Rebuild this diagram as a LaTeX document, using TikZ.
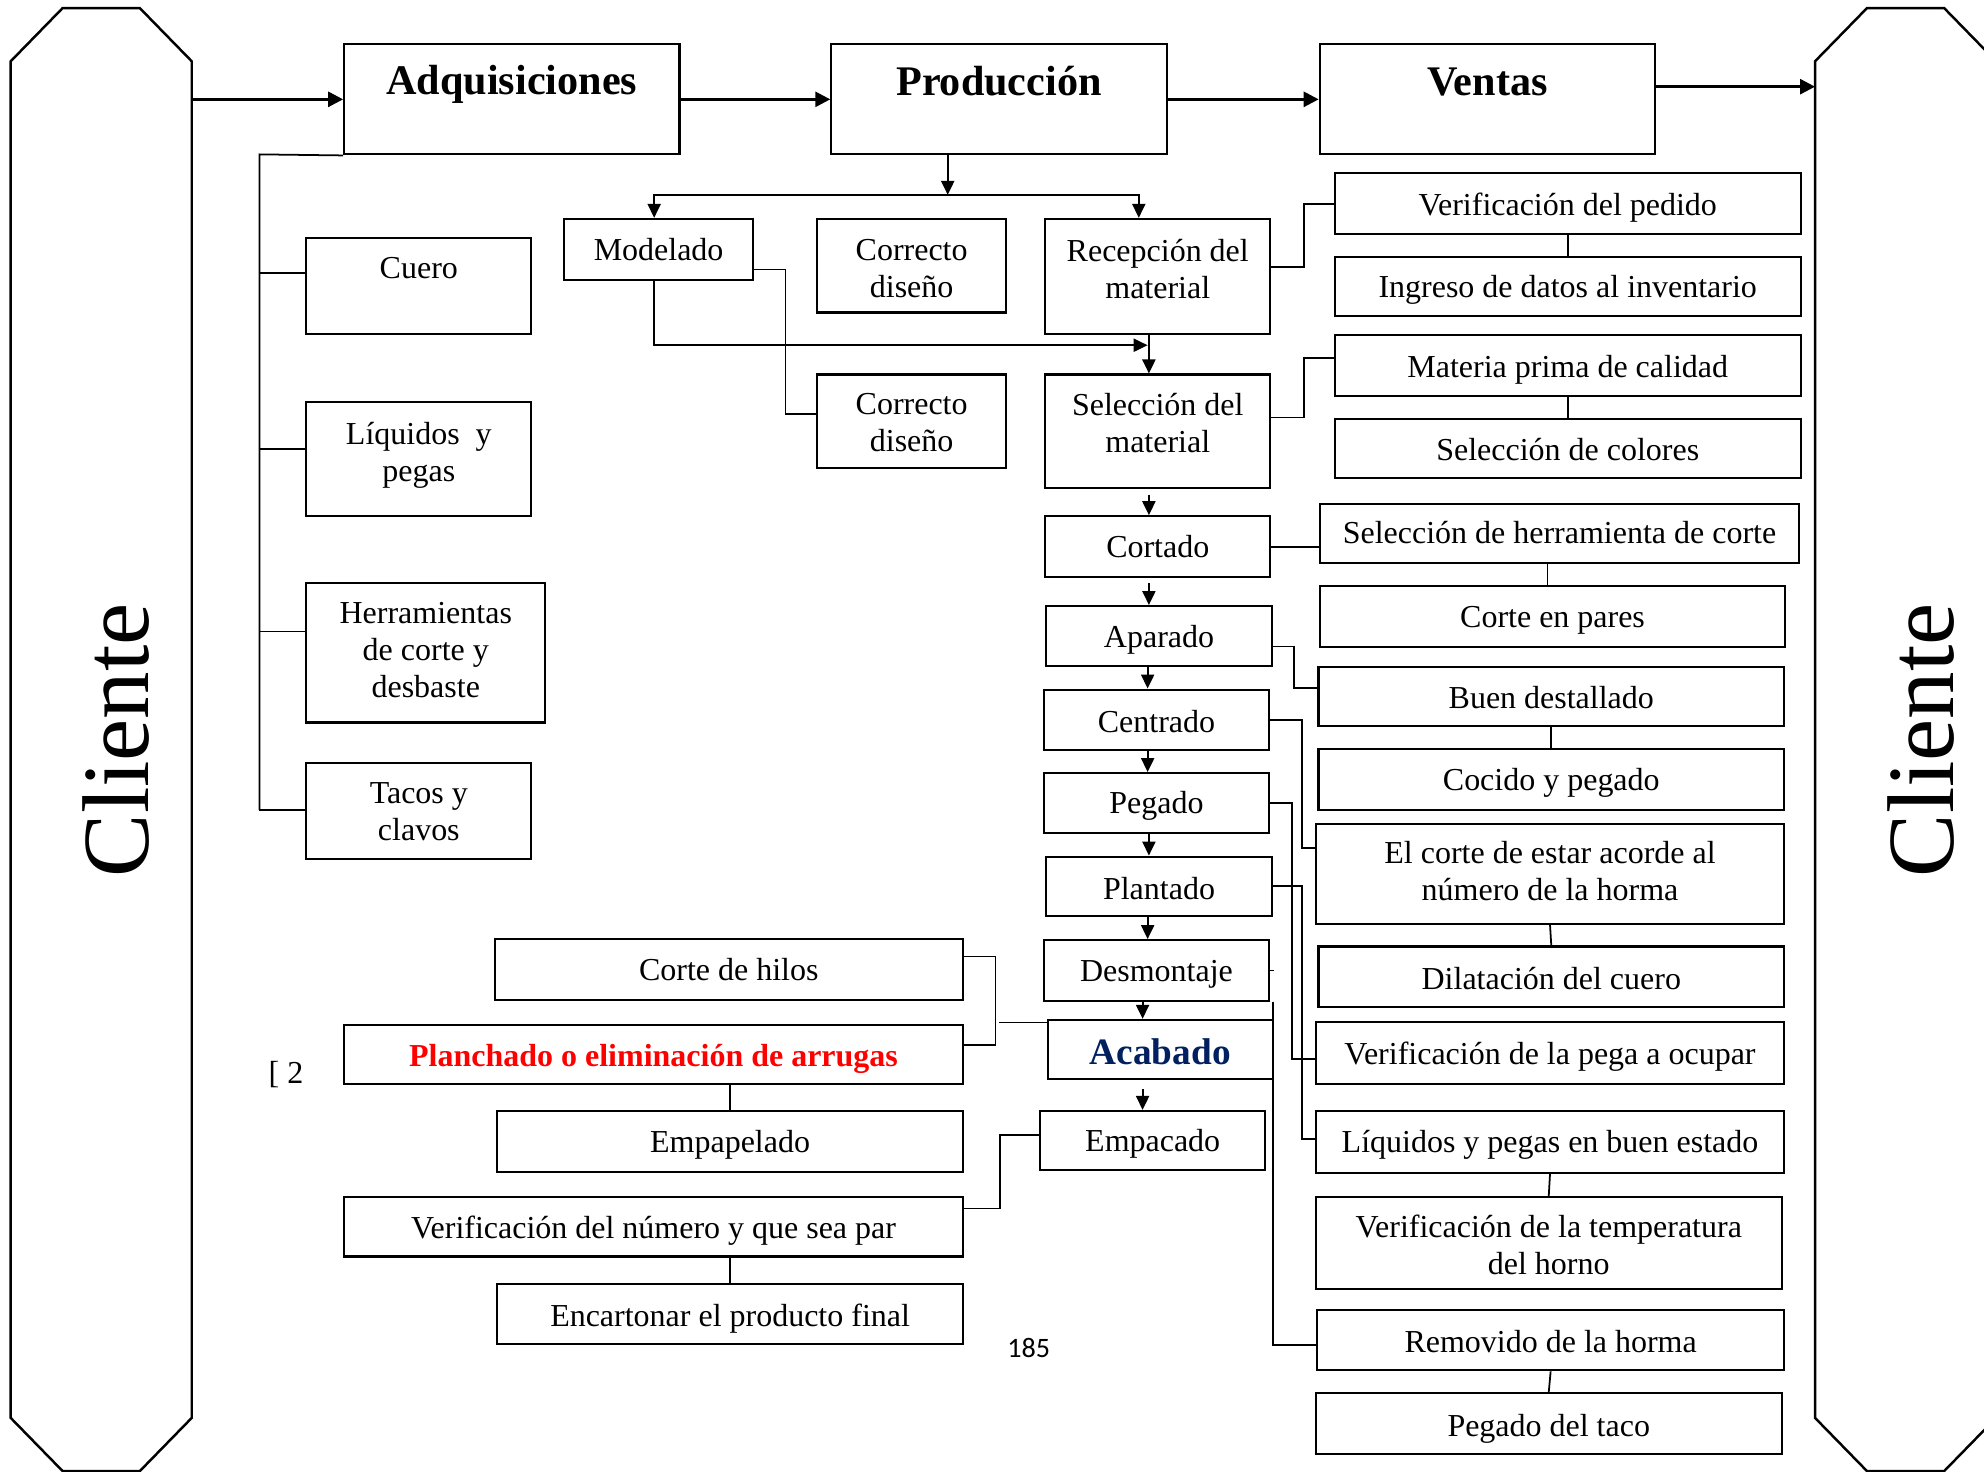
\documentclass[tikz,border=0pt]{standalone}
\usepackage{fontspec}
\setmainfont{Liberation Serif}
\newfontfamily\numfont{Carlito}
\usetikzlibrary{calc,arrows.meta}
\def\px{0.12653mm}
\definecolor{azulAcabado}{HTML}{002060}
\def\Titulo{\bfseries\fontsize{12}{14}\selectfont}
\def\AcabadoF{\color{azulAcabado}\bfseries\fontsize{10.6}{12}\selectfont}
\tikzset{
  caja/.style={draw=black, line width=0.6pt, inner sep=0pt},
  texto/.style={align=center, inner sep=0pt, font=\fontsize{9.1}{10.5}\selectfont},
  linea/.style={line width=0.5pt},
  flecha/.style={line width=0.6pt, -{Triangle[length=1.4mm,width=1.3mm]}},
  flechaG/.style={line width=0.8pt, -{Triangle[length=1.5mm,width=1.5mm]}},
  cliente/.style={draw=black, line width=0.7pt}
}
\def\Caja#1#2#3#4#5#6#7{%
  \node[caja, minimum width={(#4-#2)*\px}, minimum height={(#5-#3)*\px}] (#1) at ({(#2+#4)/2},{(#3+#5)/2}) {};
  \node[texto] (#1-t) at ({(#2+#4)/2},#6) {#7};
}
\def\Cliente#1#2{%
  \node[inner sep=0pt, minimum width=142*\px, minimum height=1155*\px] (#1) at ({#2+71},584.5) {};
  \draw[cliente] ($(#1.north west)+(0,42)$) -- ($(#1.north west)+(41,0)$)
    -- ($(#1.north east)+(-41,0)$) -- ($(#1.north east)+(0,42)$)
    -- ($(#1.south east)+(0,-42)$) -- ($(#1.south east)+(-41,0)$)
    -- ($(#1.south west)+(41,0)$) -- ($(#1.south west)+(0,-42)$) -- cycle;
  \node[rotate=90, inner sep=0pt, font=\fontsize{27}{30}\selectfont] (#1-t) at ({#2+83},585) {Cliente};
}
\begin{document}
\begin{tikzpicture}[x=\px, y=-\px]
\useasboundingbox (0,0) rectangle (1568,1163);
\clip (0,0) rectangle (1568,1163);
\Cliente{cliIzq}{9}
\Cliente{cliDer}{1435}
\Caja{adq}{272}{35}{537}{122}{67}{\Titulo Adquisiciones}
\Caja{prod}{657}{35}{922}{122}{64}{\Titulo Producción}
\Caja{ventas}{1043}{35}{1308}{122}{65}{\Titulo Ventas}
% materiales
\Caja{cuero}{242}{188}{420}{264}{212}{Cuero}
\Caja{liquidos}{242}{318}{420}{408}{359.5}{Líquidos~ y\\pegas}
\Caja{herram}{242}{461}{431}{571}{514}{Herramientas\\de corte y\\desbaste}
\Caja{tacos}{242}{603}{420}{679}{641.5}{Tacos y\\clavos}
% proceso
\Caja{modelado}{446}{173}{595}{221}{197}{Modelado}
\Caja{correcto1}{646}{173}{795}{247}{212}{Correcto\\diseño}
\Caja{recepcion}{826}{173}{1004}{264}{212.5}{Recepción del\\material}
\Caja{correcto2}{646}{296}{795}{370}{334}{Correcto\\diseño}
\Caja{seleccion}{826}{296}{1004}{386}{334}{Selección del\\material}
\Caja{cortado}{826}{408}{1004}{456}{432}{Cortado}
\Caja{aparado}{827}{479}{1005}{526}{506}{Aparado}
\Caja{centrado}{825}{545}{1003}{593}{570}{Centrado}
\Caja{pegado}{825}{611}{1003}{658}{637}{Pegado}
\Caja{plantado}{827}{677}{1005}{724}{702}{Plantado}
\Caja{desmontaje}{825}{743}{1003}{791}{770}{Desmontaje}
\Caja{acabado}{828}{806}{1006}{853}{831}{\AcabadoF Acabado}
\Caja{empacado}{822}{878}{1000}{925}{904}{Empacado}
% controles
\Caja{verifPedido}{1055}{137}{1423}{185}{164}{Verificación del pedido}
\Caja{ingreso}{1055}{203}{1423}{250}{229}{Ingreso de datos al inventario}
\Caja{materia}{1055}{265}{1423}{313}{292}{Materia prima de calidad}
\Caja{colores}{1055}{331}{1423}{378}{355}{Selección de colores}
\Caja{herrCorte}{1043}{398}{1422}{445}{421}{Selección de herramienta de corte}
\Caja{pares}{1043}{463}{1411}{511}{490}{Corte en pares}
\Caja{buen}{1042}{527}{1410}{574}{551}{Buen destallado}
\Caja{cocido}{1042}{592}{1410}{640}{619}{Cocido y pegado}
\Caja{elcorte}{1040}{651}{1410}{730}{688.5}{El corte de estar acorde al\\número de la horma}
\Caja{dilatacion}{1042}{748}{1410}{796}{773}{Dilatación del cuero}
\Caja{verifPega}{1040}{808}{1410}{857}{835}{Verificación de la pega a ocupar}
\Caja{liqEstado}{1040}{878}{1410}{927}{905}{Líquidos y pegas en buen estado}
\Caja{temperatura}{1040}{946}{1408}{1019}{984}{Verificación de la temperatura\\del horno}
\Caja{removido}{1041}{1035}{1410}{1083}{1060}{Removido de la horma}
\Caja{pegadoTaco}{1040}{1101}{1408}{1149}{1129}{Pegado del taco}
% acabado
\Caja{corteHilos}{391}{742}{761}{790}{766}{Corte de hilos}
\Caja{planchado}{272}{810}{761}{857}{837}{\textcolor{red}{\bfseries Planchado o eliminación de arrugas}}
\Caja{empapelado}{393}{878}{761}{926}{905}{Empapelado}
\Caja{verifNumero}{272}{946}{761}{993}{973}{Verificación del número y que sea par}
\Caja{encartonar}{393}{1015}{761}{1062}{1042}{Encartonar el producto final}
\node[texto] (nota) at (226,849) {[ 2};
\node[inner sep=0pt, font=\numfont\fontsize{8}{9}\selectfont] (pagina) at (813,1065) {185};
% flujo principal
\draw[flechaG] (cliIzq.east |- adq.west) -- (adq.west);
\draw[flechaG] (adq.east) -- (prod.west);
\draw[flechaG] (prod.east) -- (ventas.west);
\coordinate (vs) at ($(ventas.east)+(0,-10)$);
\draw[flechaG] (vs) -- (vs -| cliDer.west);
% adquisiciones
\coordinate (troncoA) at (205,122);
\draw[linea] (adq.south west) -- (troncoA) -- (troncoA |- 0,640);
\foreach \n/\y in {cuero/216, liquidos/355, herram/499, tacos/640}
  \draw[linea] (troncoA |- 0,\y) -- (\n.west |- 0,\y);
% produccion
\coordinate (bif) at (749,154);
\draw[flecha] (prod.south -| bif) -- (bif);
\draw[flecha] (bif) -| ([xshift=-3.5*\px]modelado.north);
\draw[flecha] (bif) -| ([xshift=-15*\px]recepcion.north);
\draw[linea] ([yshift=-16*\px]modelado.east) -- ++(25,0) |- ([yshift=6*\px]correcto2.west);
\draw[flecha] ([xshift=-3.5*\px]modelado.south) |- ($(recepcion.south)+(-8,8)$);
\foreach \a/\b/\x/\g in {recepcion/seleccion/908/0, seleccion/cortado/908/4,
    cortado/aparado/908/4, aparado/centrado/907/0, centrado/pegado/907/0,
    pegado/plantado/908/0, plantado/desmontaje/907/0, desmontaje/acabado/903/0,
    acabado/empacado/903/7}
  \draw[flecha, shorten <=\g*\px] (\a.south -| \x,0) -- (\b.north -| \x,0);
% controles de cada etapa
\draw[linea] ([yshift=7.5*\px]recepcion.east) -- ++(26,0) |- (verifPedido.west);
\draw[linea] (verifPedido.south) -- (ingreso.north);
\draw[linea] ([yshift=11*\px]seleccion.east) -- ++(26,0) |- ([yshift=6*\px]materia.west);
\draw[linea] (materia.south) -- (colores.north);
\draw[linea] (cortado.east) -- (cortado.east -| herrCorte.west);
\draw[linea] ([xshift=-4*\px]pares.north) -- ([xshift=-4*\px]pares.north |- herrCorte.south);
\draw[linea] ([yshift=-8.5*\px]aparado.east) -- ++(17,0) |- ([yshift=6.5*\px]buen.west);
\draw[linea] (buen.south) -- (cocido.north);
\draw[linea] (centrado.east) -- ++(25,0) |- ([yshift=20.5*\px]elcorte.west);
\draw[linea] (elcorte.south) -- (dilatacion.north);
\draw[linea] (pegado.east) -- ++(17,0) |- ([yshift=-4.5*\px]verifPega.west);
\draw[linea] (plantado.east) -- ++(23,0) |- ([yshift=2.5*\px]liqEstado.west);
\draw[linea] (liqEstado.south) -- (temperatura.north);
\draw[linea] (desmontaje.east) -- ++(3,0);
\draw[linea] ([xshift=2*\px]desmontaje.south east) |- ([yshift=-4*\px]removido.west);
\draw[linea] (removido.south) -- (pegadoTaco.north);
% acabado
\draw[linea] ([yshift=10*\px]corteHilos.east) -- ++(25,0) |- ([yshift=7.5*\px]planchado.east);
\draw[linea] ([yshift=-3*\px]acabado.north west) -- ++(-38,0);
\draw[linea] (empapelado.north) -- (empapelado.north |- planchado.south);
\draw[linea] ([yshift=4.5*\px]empacado.west) -- ++(-31,0) |- ([yshift=14.5*\px]verifNumero.east);
\draw[linea] (encartonar.north) -- (encartonar.north |- verifNumero.south);
\end{tikzpicture}
\end{document}
